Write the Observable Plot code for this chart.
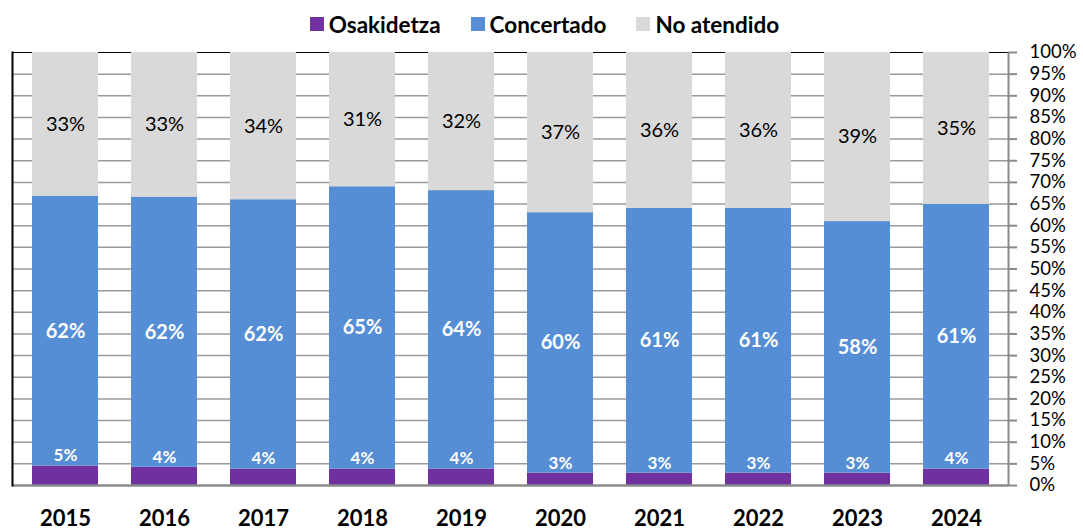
<!DOCTYPE html>
<html><head><meta charset="utf-8">
<script src="https://cdn.jsdelivr.net/npm/d3@7"></script>
<script src="https://cdn.jsdelivr.net/npm/@observablehq/plot@0.6"></script>
<style>
body{margin:0;background:#fff;font-family:Lato,"Open Sans",sans-serif;}
#legend{height:40px;display:flex;justify-content:center;align-items:center;padding-left:6px;padding-top:8px;box-sizing:border-box;}
.item{display:flex;align-items:center;margin:0 15px;font-weight:bold;font-size:22.5px;color:#000;}
.sw{width:14px;height:14px;margin-right:5px;}
</style></head><body>
<div id="legend"></div><div id="chart"></div>
<script>
const years = ["2015","2016","2017","2018","2019","2020","2021","2022","2023","2024"];
const series = ["Osakidetza","Concertado","No atendido"];
const colors = ["#7030A0","#558ED5","#D9D9D9"];
const osakidetza = [4.5, 4.2, 3.8, 3.8, 3.8, 2.85, 2.85, 2.85, 2.85, 3.8];
const concertado = [62.3, 62.4, 62.2, 65.2, 64.3, 60.15, 61.15, 61.15, 58.1, 61.1];
const noAtendido = [33.2, 33.4, 34.0, 31.0, 31.9, 37.0, 36.0, 36.0, 39.05, 35.1];
const yTicks = d3.range(0, 101, 5);

const data = [];
const vals = [osakidetza, concertado, noAtendido];
years.forEach((yr, i) => series.forEach((s, j) => data.push({year: yr, serie: s, value: vals[j][i]})));
const pct = d => Math.round(d.value) + "%";
const labelFor = name => d => d.serie === name ? pct(d) : "";

// legend
const lg = document.getElementById("legend");
series.forEach((s, j) => {
  const it = document.createElement("div"); it.className = "item";
  const sw = document.createElement("div"); sw.className = "sw"; sw.style.background = colors[j];
  const tx = document.createElement("span"); tx.textContent = s;
  it.appendChild(sw); it.appendChild(tx); lg.appendChild(it);
});

const chart = Plot.plot({
  width: 1083,
  height: 491,
  marginTop: 12,
  marginBottom: 46,
  marginLeft: 12,
  marginRight: 75,
  style: {fontFamily: "Lato, 'Open Sans', sans-serif", background: "#fff"},
  x: {domain: years, paddingInner: 0.335, paddingOuter: 0.1675, label: null},
  y: {domain: [0, 100], label: null},
  color: {domain: series, range: colors},
  marks: [
    Plot.ruleY(yTicks.filter(t => t > 0 && t < 100), {stroke: "#9a9a9a", strokeWidth: 1.5}),
    Plot.ruleY([100], {stroke: "#000", strokeWidth: 1}),
    Plot.barY(data, {x: "year", y: "value", fill: "serie", order: series}),
    Plot.ruleY([0], {stroke: "#8a8a8a", strokeWidth: 2.5}),
    Plot.frame({anchor: "left", stroke: "#000", strokeWidth: 2}),
    Plot.frame({anchor: "right", stroke: "#8a8a8a", strokeWidth: 2}),
    Plot.axisY({anchor: "right", ticks: yTicks, tickSize: 8, tickPadding: 13, tickFormat: d => d + "%", stroke: "#8a8a8a", strokeWidth: 2, fontSize: 18.5, fill: "#000", textAnchor: "start"}),
    Plot.axisX({anchor: "bottom", tickSize: 0, tickPadding: 25, fontSize: 22, fontWeight: "bold", fill: "#000"}),
    Plot.text(data, Plot.stackY({x: "year", y: "value", z: "serie", order: series,
      text: labelFor("Concertado"), fontSize: 20, fill: "white", fontWeight: "bold"})),
    Plot.text(data, Plot.stackY({x: "year", y: "value", z: "serie", order: series,
      text: labelFor("No atendido"), fontSize: 20, fill: "black"})),
    Plot.text(data.filter(d => d.serie === "Osakidetza"), {x: "year", y: "value", text: pct, dy: -10, fontSize: 17, fontWeight: "bold", fill: "white"})
  ]
});
document.getElementById("chart").appendChild(chart);
</script>
</body></html>
